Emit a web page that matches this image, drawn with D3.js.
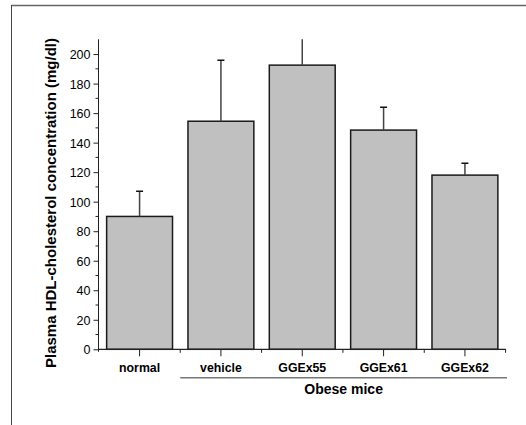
<!DOCTYPE html>
<html>
<head>
<meta charset="utf-8">
<script src="https://cdn.jsdelivr.net/npm/d3@7"></script>
<style>
  html, body { margin: 0; padding: 0; background: #fff; }
  svg { display: block; }
  text { font-family: "Liberation Sans", Arial, sans-serif; fill: #000; }
</style>
</head>
<body>
<svg id="chart" width="526" height="425"></svg>
<script>
// HDL-cholesterol by treatment group (mean and SD, mg/dl)
const groups = ["normal", "vehicle", "GGEx55", "GGEx61", "GGEx62"];
const means  = [90, 154.5, 192.5, 148.5, 118];
const errors = [17, 41.3, 40, 15.5, 8];
const yTicks = [0, 20, 40, 60, 80, 100, 120, 140, 160, 180, 200];
const obeseGroups = ["vehicle", "GGEx55", "GGEx61", "GGEx62"];

const svg = d3.select("#chart");

// outer frame (top and left edges)
svg.append("line").attr("x1", 11.5).attr("x2", 526).attr("y1", 5.5).attr("y2", 5.5)
  .attr("stroke", "#666").attr("stroke-width", 1.5);
svg.append("line").attr("x1", 11.5).attr("x2", 11.5).attr("y1", 5).attr("y2", 425)
  .attr("stroke", "#444").attr("stroke-width", 1);

const plot = { left: 98.5, right: 506, top: 39.3, bottom: 349.3 };

const x = d3.scaleBand().domain(groups)
  .range([plot.left, plot.right])
  .paddingInner(0.19).paddingOuter(0.1);
const y = d3.scaleLinear().domain([0, 210]).range([plot.bottom, plot.top]);

svg.append("defs").append("clipPath").attr("id", "plotClip")
  .append("rect").attr("x", plot.left).attr("y", plot.top)
  .attr("width", plot.right - plot.left).attr("height", plot.bottom - plot.top);

const rows = groups.map((g, i) => ({ g, v: means[i], e: errors[i] }));

// bars
svg.append("g").selectAll("rect").data(rows).join("rect")
  .attr("x", d => x(d.g))
  .attr("y", d => y(d.v))
  .attr("width", x.bandwidth())
  .attr("height", d => y(0) - y(d.v))
  .attr("fill", "#c0c0c0")
  .attr("stroke", "#1a1a1a")
  .attr("stroke-width", 1.5);

// upper error bars
const eb = svg.append("g").attr("clip-path", "url(#plotClip)");
eb.selectAll("line.stem").data(rows).join("line").attr("class", "stem")
  .attr("x1", d => x(d.g) + x.bandwidth() / 2)
  .attr("x2", d => x(d.g) + x.bandwidth() / 2)
  .attr("y1", d => y(d.v))
  .attr("y2", d => y(d.v + d.e))
  .attr("stroke", "#444").attr("stroke-width", 1.5);
eb.selectAll("line.cap").data(rows).join("line").attr("class", "cap")
  .attr("x1", d => x(d.g) + x.bandwidth() / 2 - 3.5)
  .attr("x2", d => x(d.g) + x.bandwidth() / 2 + 3.5)
  .attr("y1", d => y(d.v + d.e))
  .attr("y2", d => y(d.v + d.e))
  .attr("stroke", "#111").attr("stroke-width", 1.5);

// y axis
const yAxis = d3.axisLeft(y).tickValues(yTicks).tickSize(5).tickPadding(3);
const gy = svg.append("g").attr("transform", `translate(${plot.left},0)`).call(yAxis);
gy.select(".domain").remove();
gy.selectAll("line").attr("stroke", "#222");
gy.selectAll("text").style("font-size", "12.5px").attr("dy", "0.36em");
// minor ticks
const minor = d3.range(10, 210, 20);
svg.append("g").selectAll("line").data(minor).join("line")
  .attr("x1", plot.left - 3).attr("x2", plot.left)
  .attr("y1", d => y(d)).attr("y2", d => y(d))
  .attr("stroke", "#222");
svg.append("line").attr("x1", plot.left).attr("x2", plot.left)
  .attr("y1", plot.top).attr("y2", plot.bottom + 2.5)
  .attr("stroke", "#222").attr("stroke-width", 1);

// x axis
svg.append("line").attr("x1", plot.left).attr("x2", plot.right)
  .attr("y1", plot.bottom).attr("y2", plot.bottom)
  .attr("stroke", "#222").attr("stroke-width", 1.2);
const xAxis = d3.axisBottom(x).tickSize(7).tickPadding(7);
const gx = svg.append("g").attr("transform", `translate(0,${plot.bottom})`).call(xAxis);
gx.select(".domain").remove();
gx.selectAll("line").attr("stroke", "#222");
gx.selectAll("text").style("font-size", "12.3px").style("font-weight", "bold");
// minor ticks between groups
const bounds = d3.range(groups.length + 1).map(i => plot.left + x.step() * x.paddingOuter() - x.step() * x.paddingInner() / 2 + i * x.step());
svg.append("g").selectAll("line").data(bounds.slice(1)).join("line")
  .attr("x1", d => d).attr("x2", d => d)
  .attr("y1", plot.bottom).attr("y2", plot.bottom + 3.5)
  .attr("stroke", "#222");

// group bracket under obese-mice categories
const gStart = x(obeseGroups[0]) - x.step() * x.paddingInner() / 2;
const gEnd = plot.right + 1;
svg.append("line").attr("x1", gStart).attr("x2", gEnd)
  .attr("y1", 377.7).attr("y2", 377.7)
  .attr("stroke", "#777").attr("stroke-width", 1.5);
svg.append("text").attr("x", (gStart + gEnd) / 2 + 0).attr("y", 393.5)
  .attr("text-anchor", "middle")
  .style("font-size", "14px").style("font-weight", "bold")
  .text("Obese mice");

// y axis title
svg.append("text")
  .attr("transform", `translate(56,203) rotate(-90)`)
  .attr("text-anchor", "middle")
  .attr("textLength", 330).attr("lengthAdjust", "spacingAndGlyphs")
  .style("font-size", "14px").style("font-weight", "bold")
  .text("Plasma HDL-cholesterol concentration (mg/dl)");
</script>
</body>
</html>
